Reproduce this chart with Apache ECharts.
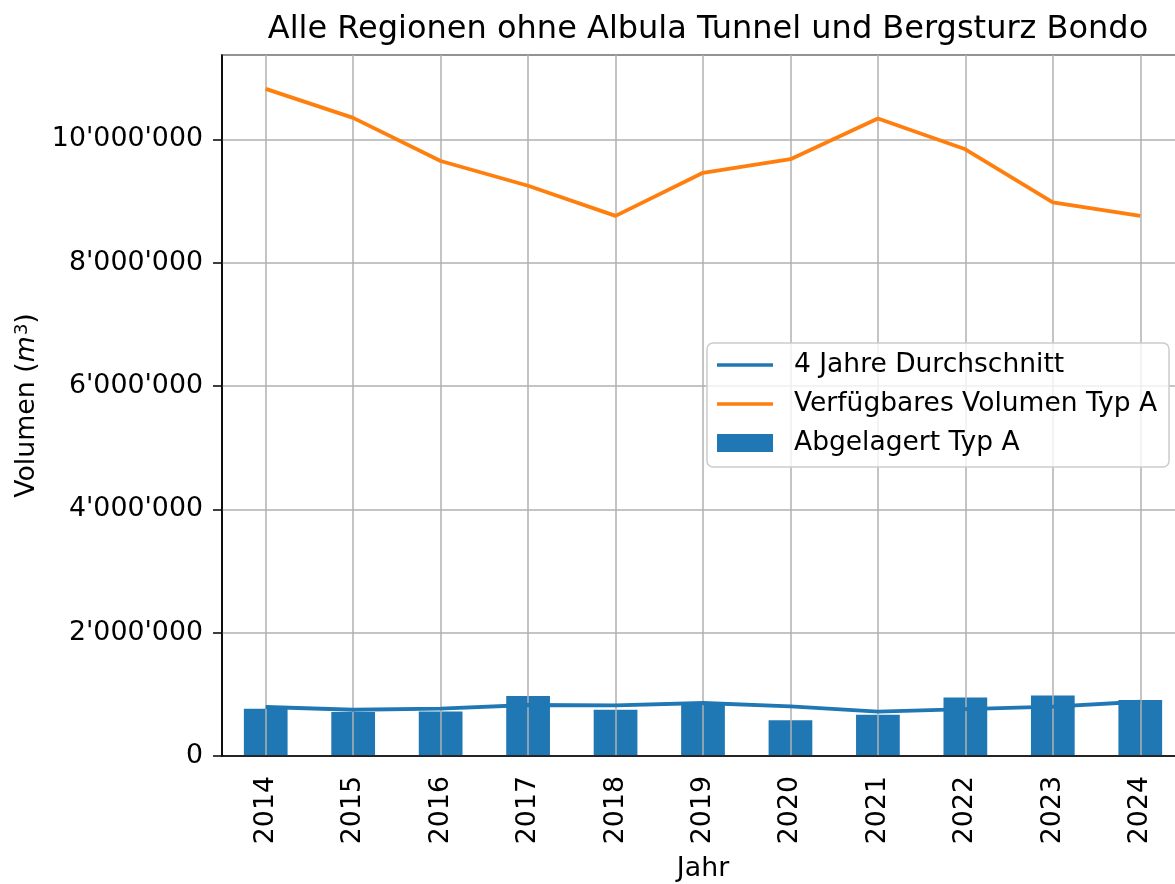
<!DOCTYPE html>
<html lang="de">
<head>
    <meta charset="UTF-8">
    <script src="https://cdn.jsdelivr.net/npm/echarts@6/dist/echarts.min.js"></script>
    <title>Alle Regionen ohne Albula Tunnel und Bergsturz Bondo</title>
    <style>
        html, body { margin: 0; padding: 0; background: #fff; }
        #main { width: 1175px; height: 884px; }
    </style>
</head>
<body>
<div id="main"></div>
<script>
    // Jahre und Werte
    var jahre = ['2014', '2015', '2016', '2017', '2018', '2019', '2020', '2021', '2022', '2023', '2024'];
    var abgelagert = [767000, 713000, 720000, 973000, 750000, 860000, 578000, 670000, 950000, 980000, 910000];
    var durchschnitt = [795000, 750000, 770000, 827000, 820000, 860000, 805000, 720000, 760000, 800000, 880000];
    var verfuegbar = [10820000, 10350000, 9650000, 9250000, 8760000, 9460000, 9680000, 10340000, 9840000, 8980000, 8760000];

    var font = 'DejaVu Sans';
    var fs = 26.8;
    var linienIcon = 'path://M0,0H56V3.6H0Z';

    function fmt(v) {
        return Math.round(v).toString().replace(/\B(?=(\d{3})+(?!\d))/g, "'");
    }

    // hilfsachse fuer die vertikalen gitterlinien (in der mitte der kategorien)
    var halbSchritte = [];
    for (var i = 0; i < jahre.length * 2 + 1; i++) {
        halbSchritte.push(String(i));
    }

    var myChart = echarts.init(document.getElementById('main'));

    var option = {
        backgroundColor: '#fff',
        animation: false,
        title: {
            text: 'Alle Regionen ohne Albula Tunnel und Bergsturz Bondo',
            left: 703,
            textAlign: 'center',
            top: 9,
            textStyle: { fontFamily: font, fontSize: 32, fontWeight: 'normal', color: '#000' }
        },
        grid: {
            left: 222,
            right: -9,
            top: 55,
            bottom: 128,
            outerBoundsMode: 'none',
            containLabel: false,
            show: true,
            borderColor: '#000',
            borderWidth: 1.5,
            backgroundColor: 'transparent'
        },
        legend: {
            orient: 'vertical',
            left: 707,
            top: 343,
            padding: [7, 12, 9, 10],
            itemGap: 9,
            itemWidth: 56,
            itemHeight: 18,
            symbolKeepAspect: true,
            backgroundColor: 'rgba(255,255,255,0.8)',
            borderColor: '#cccccc',
            borderWidth: 1.5,
            borderRadius: 6,
            textStyle: { fontFamily: font, fontSize: 26.5, color: '#000', lineHeight: 30, padding: [0, 0, 0, 16] },
            data: [
                { name: '4 Jahre Durchschnitt', icon: linienIcon },
                { name: 'Verfügbares Volumen Typ A', icon: linienIcon },
                { name: 'Abgelagert Typ A', icon: 'rect' }
            ]
        },
        xAxis: [
            {
                type: 'category',
                data: jahre,
                boundaryGap: true,
                z: 3,
                name: 'Jahr',
                nameLocation: 'middle',
                nameGap: 100,
                nameTextStyle: { fontFamily: font, fontSize: fs, color: '#000' },
                axisLine: { lineStyle: { color: '#000', width: 1.5 } },
                axisTick: { alignWithLabel: true, length: 9, lineStyle: { color: '#000', width: 1.5 } },
                axisLabel: { rotate: 90, margin: 20, fontFamily: font, fontSize: fs, color: '#000' },
                splitLine: { show: false }
            },
            {
                type: 'category',
                data: halbSchritte,
                boundaryGap: false,
                position: 'bottom',
                z: 3,
                axisLine: { show: false },
                axisTick: { show: false },
                axisLabel: { show: false },
                splitLine: {
                    show: true,
                    interval: function (idx) { return idx % 2 === 1; },
                    lineStyle: { color: '#b0b0b0', width: 1.5 }
                }
            }
        ],
        yAxis: {
            type: 'value',
            min: 0,
            max: 11370000,
            interval: 2000000,
            z: 3,
            name: 'Volumen ({i|m}{sup|3})',
            nameLocation: 'middle',
            nameGap: 181,
            nameTextStyle: {
                fontFamily: font, fontSize: fs, color: '#000',
                rich: {
                    i: { fontFamily: font, fontSize: fs, fontStyle: 'italic', color: '#000' },
                    sup: { fontFamily: font, fontSize: 18, color: '#000', verticalAlign: 'top', padding: [0, 0, 10, 1] }
                }
            },
            axisLine: { show: true, lineStyle: { color: '#000', width: 1.5 } },
            axisTick: { show: true, length: 9, lineStyle: { color: '#000', width: 1.5 } },
            axisLabel: {
                margin: 19,
                showMaxLabel: false,
                fontFamily: font, fontSize: fs, color: '#000',
                formatter: function (v) { return fmt(v); }
            },
            splitLine: { show: true, lineStyle: { color: '#b0b0b0', width: 1.5 } }
        },
        series: [
            {
                name: 'Abgelagert Typ A',
                type: 'bar',
                xAxisIndex: 0,
                data: abgelagert,
                barWidth: '50%',
                z: 2,
                itemStyle: { color: '#1f77b4' }
            },
            {
                name: '4 Jahre Durchschnitt',
                type: 'line',
                xAxisIndex: 0,
                data: durchschnitt,
                symbol: 'none',
                z: 5,
                lineStyle: { color: '#1f77b4', width: 3.8 },
                itemStyle: { color: '#1f77b4' }
            },
            {
                name: 'Verfügbares Volumen Typ A',
                type: 'line',
                xAxisIndex: 0,
                data: verfuegbar,
                symbol: 'none',
                z: 5,
                lineStyle: { color: '#ff7f0e', width: 3.8 },
                itemStyle: { color: '#ff7f0e' }
            }
        ]
    };

    myChart.setOption(option);
</script>
</body>
</html>
